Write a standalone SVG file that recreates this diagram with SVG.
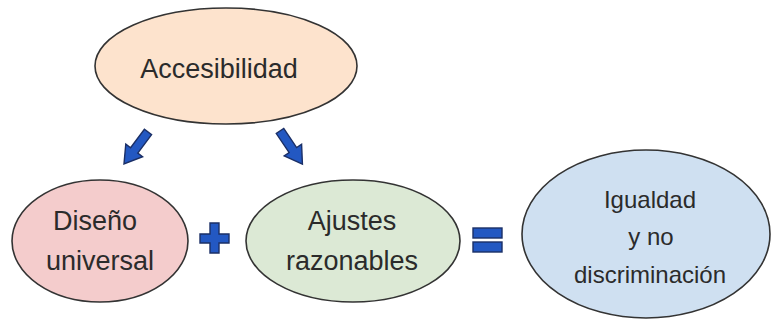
<svg xmlns="http://www.w3.org/2000/svg" xmlns:xlink="http://www.w3.org/1999/xlink" width="773" height="320" viewBox="0 0 773 320">
<style>
.node{stroke:#333333;stroke-width:1.6}
.t{font-family:"Liberation Sans",Arial,sans-serif;fill:#2b2b2b;text-anchor:middle}
.sym{fill:#2358c2;stroke:#1b2f66;stroke-width:1.4;stroke-linejoin:miter}
</style>
<defs>
<path id="arrow" d="M0,-4.5 L23,-4.5 L23,-10.5 L40,0 L23,10.5 L23,4.5 L0,4.5 Z"/>
</defs>
<rect width="773" height="320" fill="#ffffff"/>
<g id="accesibilidad">
<ellipse class="node" cx="226" cy="66" rx="131" ry="58" fill="#fde3cd"/>
<text class="t" x="219" y="78" font-size="27">Accesibilidad</text>
</g>
<g id="diseno">
<ellipse class="node" cx="100" cy="241" rx="88" ry="61" fill="#f4cccc"/>
<text class="t" x="95" y="230" font-size="27">Diseño</text>
<text class="t" x="100" y="270" font-size="27">universal</text>
</g>
<g id="ajustes">
<ellipse class="node" cx="353" cy="241" rx="107" ry="61" fill="#dce9d5"/>
<text class="t" x="352" y="230" font-size="27">Ajustes</text>
<text class="t" x="352" y="270" font-size="27">razonables</text>
</g>
<g id="igualdad">
<ellipse class="node" cx="646" cy="234" rx="124" ry="84" fill="#cfe0f1"/>
<text class="t" x="650" y="208" font-size="24">Igualdad</text>
<text class="t" x="651" y="245" font-size="24">y no</text>
<text class="t" x="650" y="283" font-size="24">discriminación</text>
</g>
<g id="connectors">
<use xlink:href="#arrow" class="sym" transform="translate(148,132) rotate(126.9)"/>
<use xlink:href="#arrow" class="sym" transform="translate(280,131) rotate(55.9)"/>
<path class="sym" d="M210,223 H219 V234 H229 V243 H219 V253 H210 V243 H200 V234 H210 Z"/>
<rect class="sym" x="473" y="228" width="29" height="10"/>
<rect class="sym" x="473" y="242" width="29" height="10"/>
</g>
</svg>
